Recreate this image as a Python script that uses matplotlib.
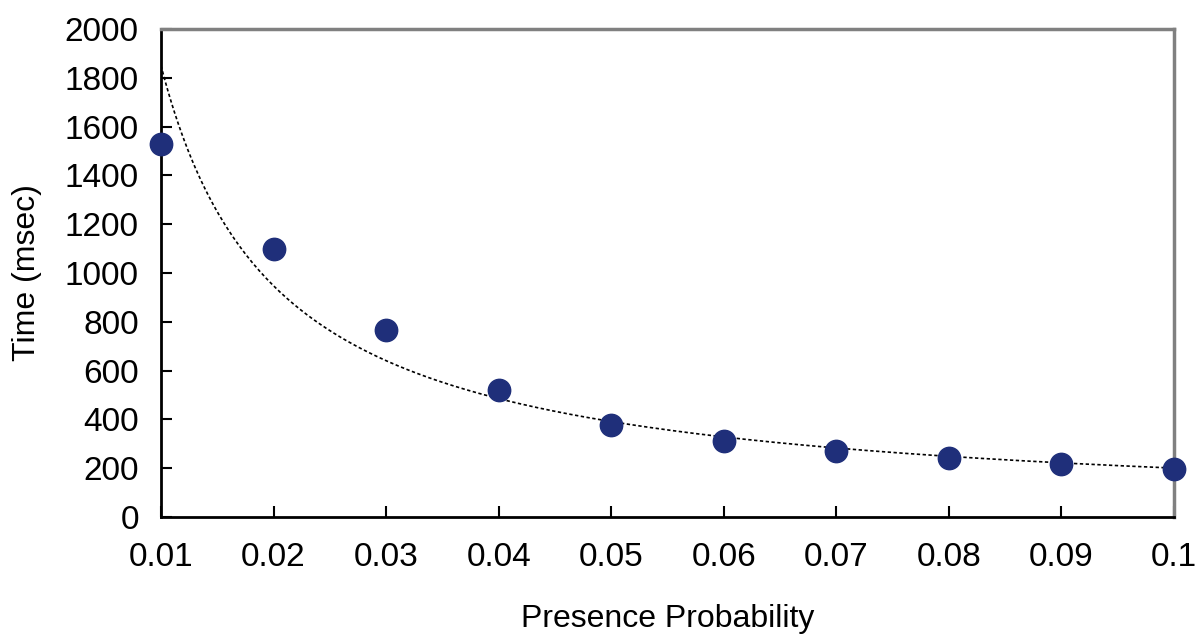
import numpy as np
import matplotlib
matplotlib.use("Agg")
import matplotlib.pyplot as plt

plt.rcParams['font.family'] = ['Liberation Sans', 'DejaVu Sans']

prob = [0.01, 0.02, 0.03, 0.04, 0.05, 0.06, 0.07, 0.08, 0.09, 0.1]
time_ms = [1528, 1100, 765, 520, 378, 310, 272, 240, 217, 197]
xtick_labels = ["0.01", "0.02", "0.03", "0.04", "0.05", "0.06", "0.07", "0.08", "0.09", "0.1"]
yticks = [0, 200, 400, 600, 800, 1000, 1200, 1400, 1600, 1800, 2000]

fig = plt.figure(figsize=(12, 6.38), dpi=100)
ax = fig.add_axes([161/1200, 1-517/638, (1174-161)/1200, (517-29)/638])

# power trendline fitted to data
b, loga = np.polyfit(np.log(prob), np.log(time_ms), 1)
xs = np.linspace(prob[0], prob[-1], 300)
ax.plot(xs, np.exp(loga) * xs**b, linestyle=(0, (2, 1.5)), color='black', linewidth=1.2, zorder=2)

ax.scatter(prob, time_ms, s=260, color='#1f2f7a', zorder=3, clip_on=False)

ax.set_xlim(0.01, 0.1)
ax.set_ylim(0, 2000)
ax.set_xticks(prob)
ax.set_xticklabels(xtick_labels)
ax.set_yticks(yticks)
ax.tick_params(direction='in', length=8, width=1.5, labelsize=24, colors='black')
ax.tick_params(axis='y', pad=16)
ax.tick_params(axis='x', pad=18)
for s in ['left', 'bottom']:
    ax.spines[s].set_color('black')
    ax.spines[s].set_linewidth(2)
for s in ['top', 'right']:
    ax.spines[s].set_color('#808080')
    ax.spines[s].set_linewidth(2.5)

ax.set_xlabel('Presence Probability', fontsize=23, labelpad=22)
ax.set_ylabel('Time (msec)', fontsize=23, labelpad=16)

fig.savefig('out.png', dpi=100)
